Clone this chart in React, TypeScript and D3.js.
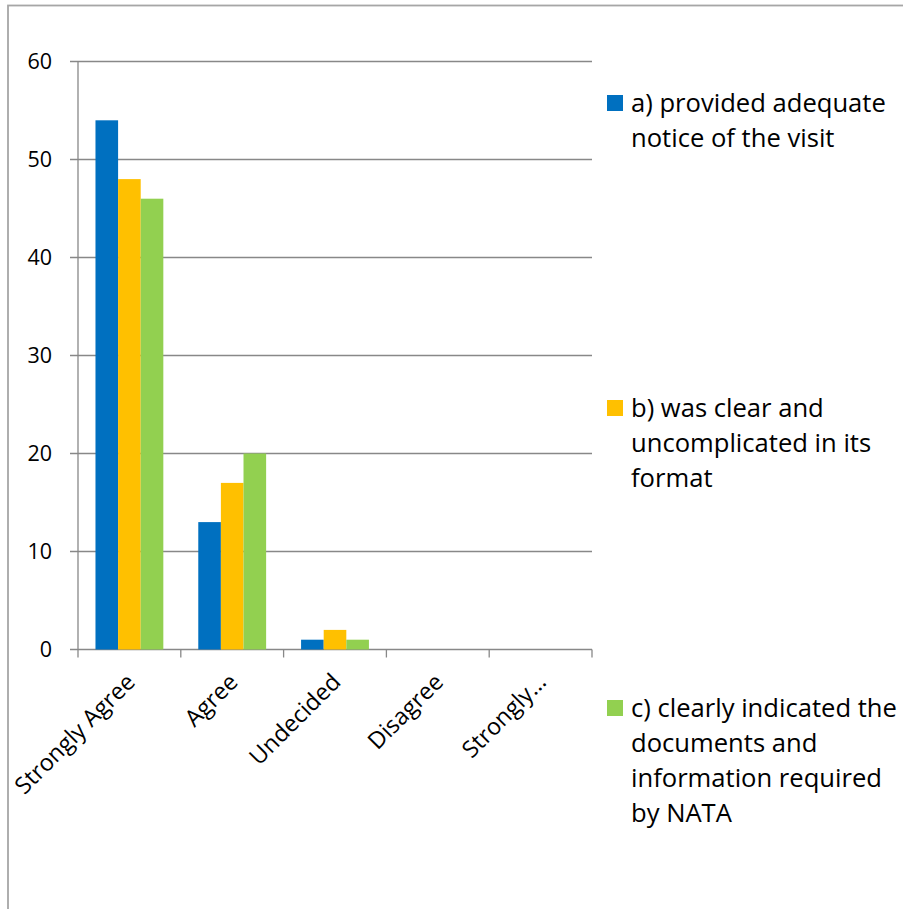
import React from "react";
import * as d3 from "d3";

const categories = ["Strongly Agree", "Agree", "Undecided", "Disagree", "Strongly…"];
const seriesNames = [
  ["a) provided adequate", "notice of the visit"],
  ["b) was clear and", "uncomplicated in its", "format"],
  ["c) clearly indicated the", "documents and", "information required", "by NATA"],
];
const seriesA = [54, 13, 1, 0, 0];
const seriesB = [48, 17, 2, 0, 0];
const seriesC = [46, 20, 1, 0, 0];
const colors = ["#0070C0", "#FFC000", "#92D050"];
const yTicks = [0, 10, 20, 30, 40, 50, 60];

export default function App() {
  const W = 903, H = 909;
  const left = 78, right = 592, top = 61.5, bottom = 649.5;
  const x = d3.scaleBand<string>().domain(categories).range([left, right]).paddingInner(0).paddingOuter(0);
  const y = d3.scaleLinear().domain([0, 60]).range([bottom, top]);
  const series = [seriesA, seriesB, seriesC];
  const groupFrac = 0.66;
  const gw = x.bandwidth() * groupFrac;
  const x1 = d3.scaleBand<number>().domain([0, 1, 2]).range([0, gw]);
  const font = "'Open Sans', sans-serif";
  const legendY = [103, 408, 708];
  const lineH = 35;
  return (
    <svg width={W} height={H} style={{ position: "absolute", left: 0, top: 0, background: "#fff" }}>
      <rect x={8} y={5.5} width={W} height={H} fill="none" stroke="#a6a6a6" strokeWidth={1.8} />
      {yTicks.map((t) => (
        <g key={t}>
          <line x1={left - 8} x2={right} y1={y(t)} y2={y(t)} stroke="#888" strokeWidth={1.3} />
          <text x={52} y={y(t)} dy="0.36em" textAnchor="end" fontFamily={font} fontSize={21.5} fill="#000">{t}</text>
        </g>
      ))}
      <line x1={left} x2={left} y1={top} y2={bottom} stroke="#888" strokeWidth={1.3} />
      {d3.range(categories.length + 1).map((i) => {
        const xx = left + i * x.step();
        return <line key={i} x1={xx} x2={xx} y1={bottom} y2={bottom + 8} stroke="#888" strokeWidth={1.3} />;
      })}
      {categories.map((c, ci) => {
        const gx = (x(c) as number) + (x.bandwidth() - gw) / 2;
        return (
          <g key={c}>
            {series.map((s, si) =>
              s[ci] > 0 ? (
                <rect key={si} x={gx + (x1(si) as number)} y={y(s[ci])} width={x1.bandwidth()} height={y(0) - y(s[ci])} fill={colors[si]} />
              ) : null
            )}
            <text
              transform={`translate(${(x(c) as number) + x.bandwidth() / 2 + 7},${bottom + 34}) rotate(-45)`}
              textAnchor="end"
              fontFamily={font}
              fontSize={23.3}
              fill="#000"
            >
              {c}
            </text>
          </g>
        );
      })}
      {seriesNames.map((lines, i) => (
        <g key={i}>
          <rect x={607} y={legendY[i] - 8} width={16} height={16} fill={colors[i]} />
          {lines.map((l, li) => (
            <text key={li} x={631} y={legendY[i] + li * lineH} dy="0.36em" fontFamily={font} fontSize={25.6} fill="#000">{l}</text>
          ))}
        </g>
      ))}
    </svg>
  );
}
